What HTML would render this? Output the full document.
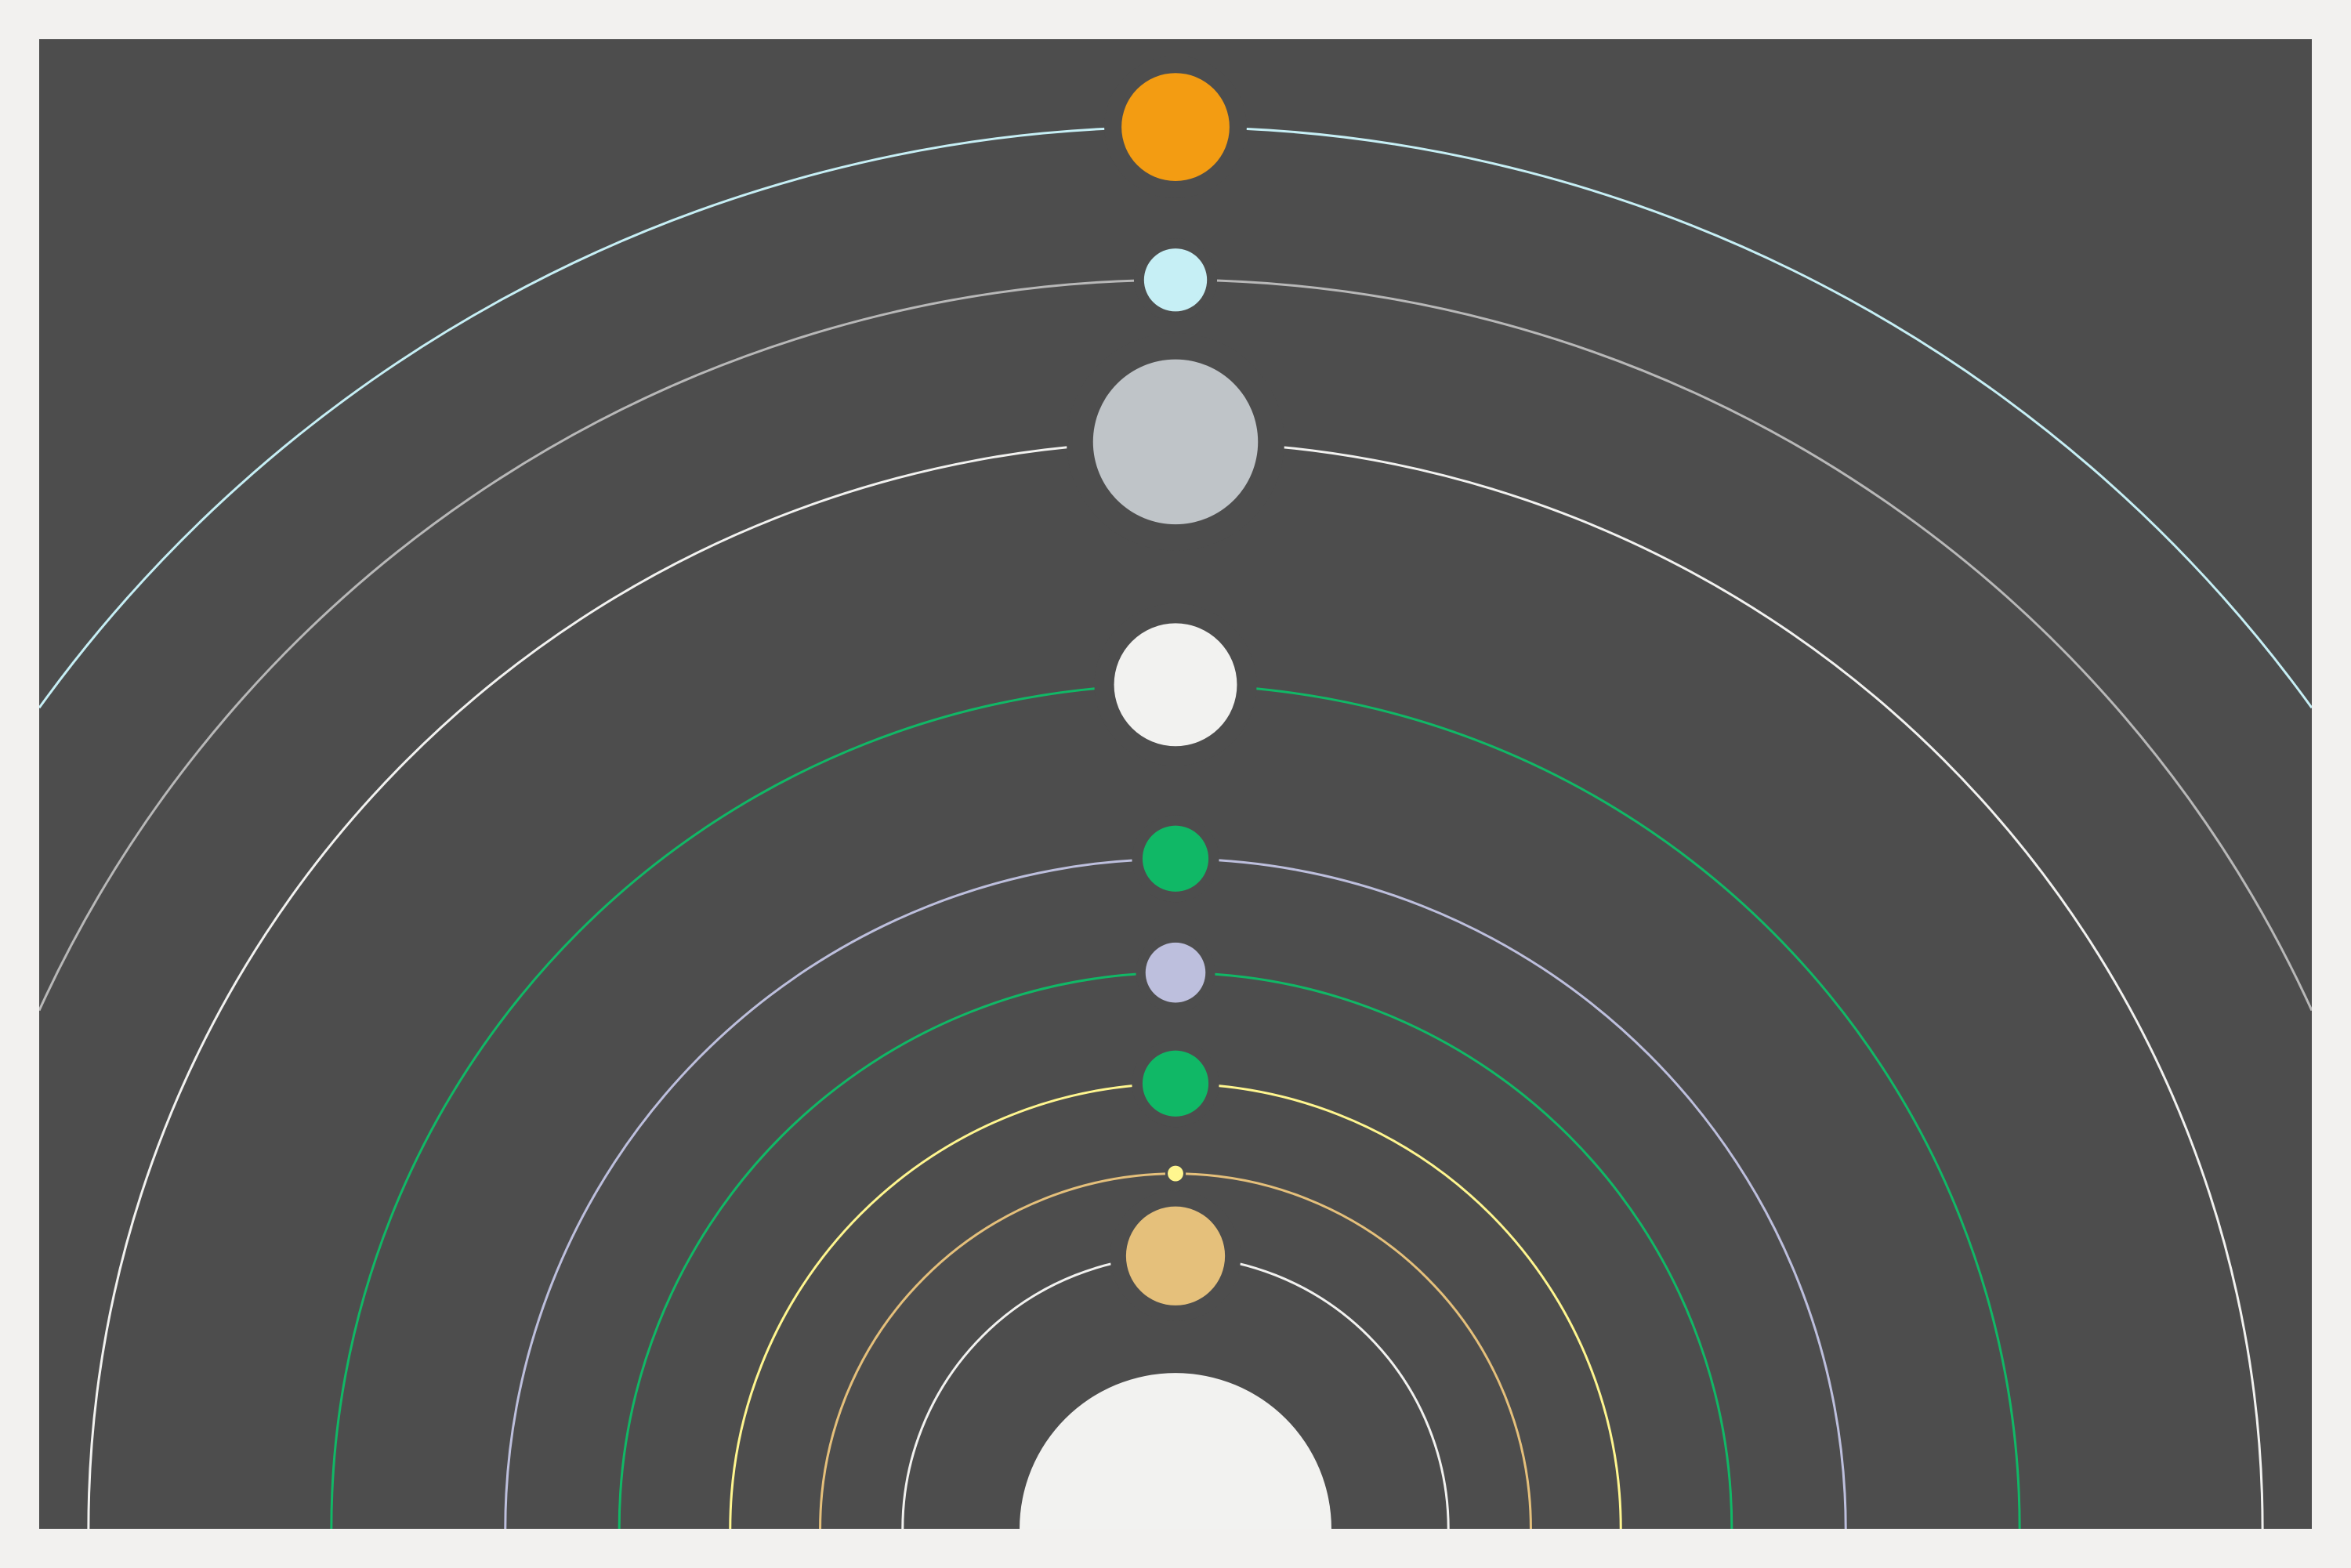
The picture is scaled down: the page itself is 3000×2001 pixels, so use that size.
<!DOCTYPE html>
<html><head><meta charset="utf-8"><style>html,body{margin:0;padding:0;background:#f2f1ef;width:3000px;height:2001px;overflow:hidden}svg{display:block}</style></head>
<body>
<svg id="chart" width="3000" height="2001" viewBox="0 0 3000 2001" xmlns="http://www.w3.org/2000/svg">
<rect x="0" y="0" width="3000" height="2001" fill="#f2f1ef"/>
<defs><clipPath id="clip"><rect x="50" y="50" width="2900" height="1901"/></clipPath></defs>
<rect x="50" y="50" width="2900" height="1901" fill="#4d4d4d"/>
<g id="g" clip-path="url(#clip)"></g>
</svg>
<script>
const orbitRadii = [182, 237, 297, 371, 447, 563, 725, 833, 935];
const planetRadii = [33, 5.2, 22, 20, 22, 41, 55, 21, 36];
const orbitColors = ["#f2f2f0","#e5c07b","#fff68f","#10b866","#bdbfdd","#10b866","#f2f2f0","#b8b8b8","#c6eff5"];
const planetColors = ["#e5c07b","#fff68f","#10b866","#bdbfdd","#10b866","#f2f2f0","#bfc4c8","#c6eff5","#f39c12"];
const sunRadius = 104;
const S = 3000/1568, cx = 1500, cy = 1951, half = 1450;
const ns = "http://www.w3.org/2000/svg";
const g = document.getElementById('g');
function mk(t, a){const e=document.createElementNS(ns,t);for(const k in a)e.setAttribute(k,a[k]);return e;}
orbitRadii.forEach((r,i)=>{
  const R = r*S;
  let d;
  if (R <= half) {
    d = `M ${cx-R} ${cy} A ${R} ${R} 0 0 1 ${cx+R} ${cy}`;
  } else {
    const y = cy - Math.sqrt(R*R - half*half);
    d = `M ${cx-half} ${y} A ${R} ${R} 0 0 1 ${cx+half} ${y}`;
  }
  const c = mk('path',{d:d,fill:'none',stroke:orbitColors[i],'stroke-width':3});
  
  
  g.appendChild(c);
});
orbitRadii.forEach((r,i)=>{
  const pr = planetRadii[i]*S;
  const p = mk('circle',{cx:cx,cy:cy-r*S,r:pr,fill:planetColors[i],stroke:'#4d4d4d','stroke-width':Math.max(6,0.64*pr)});
  
  
  p.setAttribute('paint-order','stroke');
  g.appendChild(p);
});
const SR = sunRadius*S;
const sun = mk('path',{d:`M ${cx-SR} ${cy} A ${SR} ${SR} 0 0 1 ${cx+SR} ${cy} Z`,fill:'#f2f2f0'});


g.appendChild(sun);
</script>
</body></html>
